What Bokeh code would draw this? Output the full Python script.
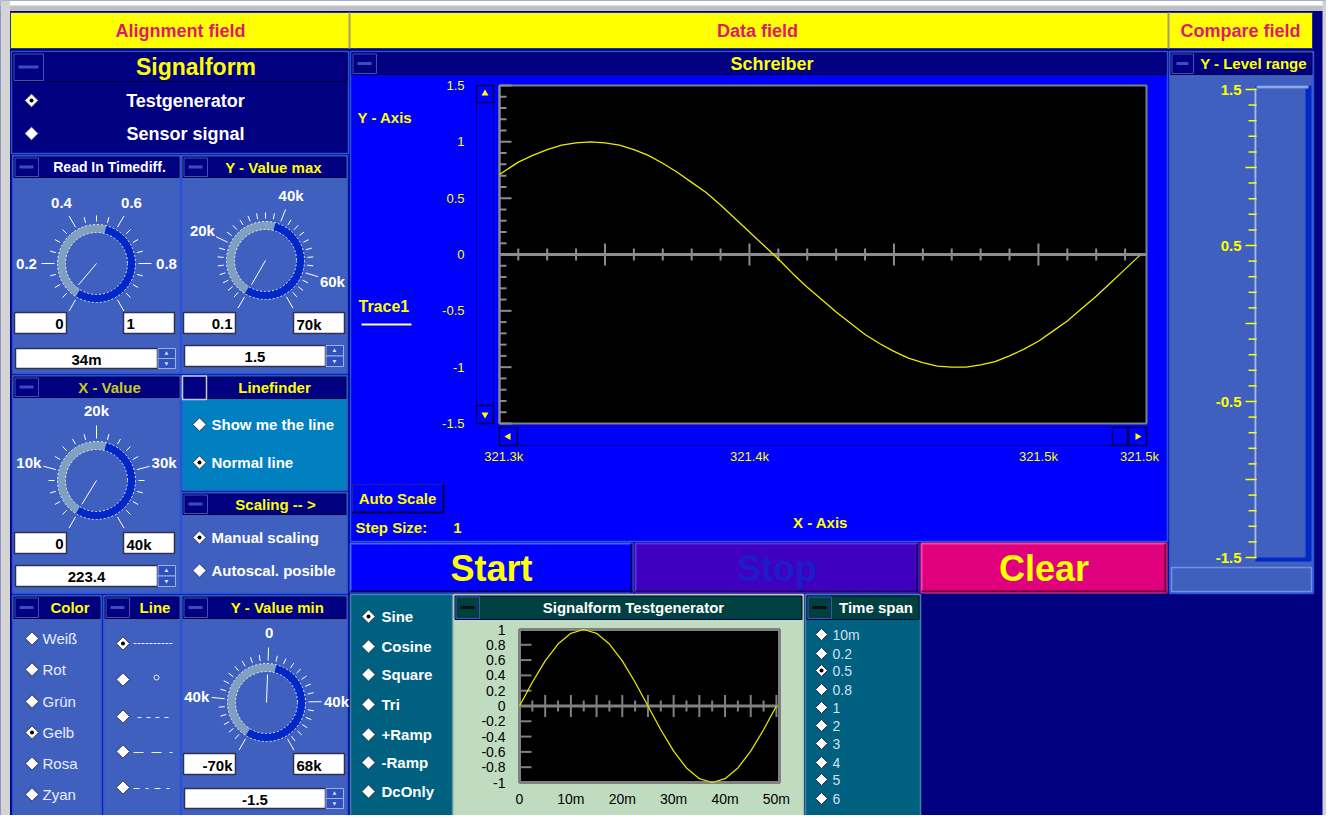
import numpy as np
from bokeh.plotting import figure
from bokeh.models import Range1d, ColumnDataSource
from bokeh.core.properties import value
from bokeh.embed import file_html
from bokeh.resources import INLINE

# ======================= DATA =======================
field_titles = ["Alignment field", "Data field", "Compare field"]
signal_sources = ["Testgenerator", "Sensor signal"]
linefinder_opts = ["Show me the line", "Normal line"]
scaling_opts = ["Manual scaling", "Autoscal. posible"]
color_opts = ["Weiß", "Rot", "Grün", "Gelb", "Rosa", "Zyan"]
waveform_opts = ["Sine", "Cosine", "Square", "Tri", "+Ramp", "-Ramp", "DcOnly"]
timespan_opts = ["10m", "0.2", "0.5", "0.8", "1", "2", "3", "4", "5", "6"]
button_labels = ["Start", "Stop", "Clear"]

# knobs
timediff_range = [0, 1]
timediff_label_vals = [0.2, 0.4, 0.6, 0.8]
timediff_labels = ["0.2", "0.4", "0.6", "0.8"]
timediff_limits = ["0", "1"]
timediff_value = 0.034
timediff_display = "34m"

ymax_range = [0, 70000]
ymax_label_vals = [20000, 40000, 60000]
ymax_labels = ["20k", "40k", "60k"]
ymax_limits = ["0.1", "70k"]
ymax_value = 1.5
ymax_display = "1.5"

xval_range = [0, 40000]
xval_label_vals = [10000, 20000, 30000]
xval_labels = ["10k", "20k", "30k"]
xval_limits = ["0", "40k"]
xval_value = 223.4
xval_display = "223.4"

ymin_range = [-70000, 68000]
ymin_label_vals = [-40000, 0, 40000]
ymin_labels = ["40k", "0", "40k"]
ymin_limits = ["-70k", "68k"]
ymin_value = -1.5
ymin_display = "-1.5"

# Schreiber (strip chart)
schreiber_x_range = [321313.5, 321537.4]
schreiber_y_range = [-1.5, 1.5]
trace_x = [321313.5, 321320, 321325, 321330, 321335, 321340, 321345, 321350,
           321355, 321360, 321365, 321370, 321375, 321380, 321385, 321390,
           321395, 321400, 321405, 321410, 321415, 321420, 321425, 321430,
           321435, 321440, 321445, 321450, 321455, 321460, 321465, 321470,
           321475, 321480, 321485, 321490, 321495, 321500, 321505, 321510,
           321515, 321520, 321525, 321530, 321535]
trace_y = [0.71, 0.82, 0.88, 0.93, 0.97, 0.99, 1.00, 0.99,
           0.97, 0.93, 0.88, 0.81, 0.73, 0.64, 0.55, 0.44,
           0.32, 0.20, 0.08, -0.04, -0.17, -0.29, -0.40, -0.51,
           -0.61, -0.71, -0.79, -0.86, -0.92, -0.96, -0.99, -1.00,
           -1.00, -0.98, -0.95, -0.90, -0.84, -0.77, -0.68, -0.59,
           -0.48, -0.37, -0.25, -0.13, -0.01]
schreiber_y_ticks = [1.5, 1, 0.5, 0, -0.5, -1, -1.5]
schreiber_y_labels = ["1.5", "1", "0.5", "0", "-0.5", "-1", "-1.5"]
schreiber_x_label_pos = [321315, 321400, 321500, 321535]
schreiber_x_labels = ["321.3k", "321.4k", "321.5k", "321.5k"]

# Signalform Testgenerator preview (time in ms)
gen_x_range = [0, 50.6]
gen_t = [0, 2.5, 5, 7.5, 10, 12.5, 15, 17.5, 20, 22.5, 25,
         27.5, 30, 32.5, 35, 37.5, 40, 42.5, 45, 47.5, 50]
gen_y = [0, 0.31, 0.59, 0.81, 0.95, 1.0, 0.95, 0.81, 0.59, 0.31, 0,
         -0.31, -0.59, -0.81, -0.95, -1.0, -0.95, -0.81, -0.59, -0.31, 0]
gen_y_ticks = [1, 0.8, 0.6, 0.4, 0.2, 0, -0.2, -0.4, -0.6, -0.8, -1]
gen_y_labels = ["1", "0.8", "0.6", "0.4", "0.2", "0", "-0.2", "-0.4", "-0.6", "-0.8", "-1"]
gen_x_ticks = [0, 10, 20, 30, 40, 50]
gen_x_labels = ["0", "10m", "20m", "30m", "40m", "50m"]

# Y - Level range scale
level_range = [-1.5, 1.5]
level_label_vals = [1.5, 0.5, -0.5, -1.5]
level_labels = ["1.5", "0.5", "-0.5", "-1.5"]

# ======================= CANVAS =======================
FONT = value("Liberation Sans")
W, H = 1326, 815
p = figure(width=W, height=H, x_range=Range1d(0, W), y_range=Range1d(H, 0),
           output_backend="svg", toolbar_location=None,
           x_axis_location=None, y_axis_location=None, min_border=0)
p.grid.visible = False
p.outline_line_color = None
p.background_fill_color = "#000080"
p.border_fill_color = "#000080"

Q = {k: [] for k in ["l", "r", "t", "b", "f", "lc", "lw", "la"]}
S = {k: [] for k in ["x0", "y0", "x1", "y1", "c", "w"]}
T = {k: [] for k in ["x", "y", "s", "c", "fs", "st", "al"]}
WD = {k: [] for k in ["x", "y", "sa", "ea", "c"]}
CI = {k: [] for k in ["x", "y", "r"]}
RD = {k: [] for k in ["x", "y", "sz"]}
DOT = {k: [] for k in ["x", "y"]}
TRI = {k: [] for k in ["x", "y", "a", "c", "sz"]}


def rect(x0, y0, x1, y1, fill, line=None, lw=1):
    Q["l"].append(x0); Q["r"].append(x1); Q["t"].append(y0); Q["b"].append(y1)
    Q["f"].append(fill); Q["lc"].append(line or fill); Q["lw"].append(lw)
    Q["la"].append(1 if line else 0)


def seg(x0, y0, x1, y1, c, w=1):
    for k, v in zip(["x0", "y0", "x1", "y1", "c", "w"], [x0, y0, x1, y1, c, w]):
        S[k].append(v)


def txt(x, y, s, c, fs=15, st="bold", al="center"):
    for k, v in zip(["x", "y", "s", "c", "fs", "st", "al"], [x, y, s, c, f"{fs}px", st, al]):
        T[k].append(v)


def radio(x, y, sel=False, sz=9.5):
    RD["x"].append(x); RD["y"].append(y); RD["sz"].append(sz)
    if sel:
        DOT["x"].append(x); DOT["y"].append(y)


def tri(x, y, a, c="#ffff00", sz=7):
    for k, v in zip(["x", "y", "a", "c", "sz"], [x, y, a, c, sz]):
        TRI[k].append(v)


def panel(x0, y0, x1, y1, hy, title, tcol, body, hfill="#000080", btn="dash",
          bw=24, tfs=15, tx=None, border="#2a52d6", dash="#3c4cc0"):
    rect(x0, y0, x1, y1, body, border, 1.5)
    rect(x0 + 1.5, y0 + 1.5, x1 - 1.5, hy, hfill, "#000040", 1)
    my = (y0 + hy) / 2 + 0.5
    if btn == "dash":
        rect(x0 + 2.5, y0 + 2.5, x0 + 2 + bw, hy - 1, hfill, "#4050b8", 1)
        seg(x0 + 7, my, x0 + bw - 3, my, dash, 3)
    elif btn == "square":
        rect(x0 + 1, y0 + 0.5, x0 + 1 + bw, hy + 1, hfill, "#c8c8d8", 1.5)
    if tx is None:
        tx = (x0 + 2 + bw + x1) / 2
    txt(tx, my, title, tcol, tfs)


def knob(cx, cy, rng, step, label_vals, labels, val):
    vmin, vmax = rng

    def ang(v):
        return np.deg2rad(240 - 300 * (v - vmin) / (vmax - vmin))

    WD["x"] += [cx, cx]; WD["y"] += [cy, cy]
    WD["sa"] += [np.deg2rad(75), np.deg2rad(-122)]
    WD["ea"] += [np.deg2rad(238), np.deg2rad(75)]
    WD["c"] += ["#80a0c0", "#0028c8"]
    CI["x"] += [cx, cx]; CI["y"] += [cy, cy]; CI["r"] += [31, 39]
    n = int(round((vmax - vmin) / step))
    vals = [vmin + i * step for i in range(n + 1) if vmin + i * step <= vmax + 1e-9]
    if vals[-1] < vmax - 1e-9:
        vals.append(vmax)
    majors = [vmin, vmax] + list(label_vals)
    for v in vals:
        a = ang(v)
        big = any(abs(v - m) < 1e-9 for m in majors)
        r1, r2 = 42, (55 if big else 48)
        seg(cx + r1 * np.cos(a), cy - r1 * np.sin(a), cx + r2 * np.cos(a), cy - r2 * np.sin(a), "white", 1)
    for v, s in zip(label_vals, labels):
        a = ang(v)
        txt(cx + 70 * np.cos(a), cy - 70 * np.sin(a), s, "white", 15)
    a = ang(val)
    seg(cx, cy, cx + 28 * np.cos(a), cy - 28 * np.sin(a), "white", 1)


def valbox(x0, y0, x1, y1, s, al):
    rect(x0, y0, x1, y1, "white", "#303050", 1.5)
    tx = {"right": x1 - 3, "left": x0 + 3, "center": (x0 + x1) / 2}[al]
    txt(tx, (y0 + y1) / 2 + 1, s, "black", 15, "bold", al)


def spinner(x0, y0, x1, y1, bx1, s):
    valbox(x0, y0, x1, y1, s, "center")
    mid = (y0 + y1) / 2
    rect(x1 + 0.5, y0, bx1, mid, "#3050c0", "#a0b0e0", 1)
    rect(x1 + 0.5, mid, bx1, y1, "#3050c0", "#a0b0e0", 1)
    tri((x1 + bx1) / 2, (y0 + mid) / 2, 0, "#d8e0f8", 4)
    tri((x1 + bx1) / 2, (mid + y1) / 2, np.pi, "#d8e0f8", 4)


# ---------- frame & header ----------
rect(0, 0, W, 10.5, "#c0c0c0")
rect(0, 0, W, 5, "white")
rect(0, 0, 9.5, H, "#d4d4d4")
rect(1322, 0, W, H, "#d0d0d8")
rect(10, 12, 1312, 48, "#ffff00", "#2030a0", 1)
seg(349, 12, 349, 48, "#a0a070", 2)
seg(1168, 12, 1168, 48, "#a0a070", 2)
for x, s in zip([180, 757, 1240], field_titles):
    txt(x, 30, s, "#e0186e", 18)

# ---------- Alignment field ----------
panel(11, 51, 348, 153, 81, "Signalform", "#ffff00", "#000080", bw=30, tfs=23)
for y, s, sel in zip([100, 133], signal_sources, [True, False]):
    radio(31, y, sel)
    txt(185, y, s, "white", 18)

panel(12, 155, 180, 373, 177, "Read In Timediff.", "white", "#4060c0", tfs=14)
panel(181, 155, 347, 373, 177, "Y - Value max", "#ffff00", "#4060c0", tx=273)
panel(12, 375, 180, 593, 397, "X - Value", "#c8c820", "#4060c0")
panel(181, 375, 347, 490, 398, "Linefinder", "#ffff00", "#0080c0", btn="square", tx=274)
panel(181, 492, 347, 593, 514, "Scaling -- >", "#ffff00", "#4060c0", tx=275)
panel(12, 595, 101, 818, 618, "Color", "#ffff00", "#4060c0")
panel(103, 595, 180, 818, 618, "Line", "#ffff00", "#4060c0")
panel(181, 595, 347, 818, 618, "Y - Value min", "#ffff00", "#4060c0")

for y, s, sel in zip([424, 462], linefinder_opts, [False, True]):
    radio(199, y, sel)
    txt(211, y, s, "white", 15, "bold", "left")
for y, s, sel in zip([537, 570], scaling_opts, [True, False]):
    radio(199, y, sel)
    txt(211, y, s, "white", 15, "bold", "left")
for y, s in zip([638, 669, 701, 732, 763, 794], color_opts):
    radio(31.5, y, s == "Gelb")
    txt(42, y, s, "#e8eeff", 15, "normal", "left")
for i, y in enumerate([643, 679, 716, 751, 787]):
    radio(122.5, y, i == 0)

knob(96, 263, timediff_range, 0.05, timediff_label_vals, timediff_labels, timediff_value)
valbox(14, 312, 66, 333, timediff_limits[0], "right")
valbox(123, 312, 174, 333, timediff_limits[1], "left")
spinner(15, 348, 157, 368, 175, timediff_display)

knob(265, 260, ymax_range, 2500, ymax_label_vals, ymax_labels, ymax_value)
valbox(183, 312, 235, 333, ymax_limits[0], "right")
valbox(293, 312, 344, 333, ymax_limits[1], "left")
spinner(184, 345, 325, 366, 343, ymax_display)

knob(96, 480, xval_range, 2000, xval_label_vals, xval_labels, xval_value)
valbox(14, 532, 66, 553, xval_limits[0], "right")
valbox(123, 532, 174, 553, xval_limits[1], "left")
spinner(15, 565, 157, 586, 175, xval_display)

knob(266, 702, ymin_range, 5000, ymin_label_vals, ymin_labels, ymin_value)
valbox(183, 753, 235, 774, ymin_limits[0], "right")
valbox(293, 753, 344, 774, ymin_limits[1], "left")
spinner(184, 788, 325, 808, 343, ymin_display)

# ---------- Data field ----------
panel(350, 51, 1167, 541, 74, "Schreiber", "#ffff00", "#0000ff", tfs=18)
txt(357, 117, "Y - Axis", "#ffff00", 15, "bold", "left")
txt(358, 306, "Trace1", "#ffff00", 16, "bold", "left")
seg(361, 324, 411, 324, "#ffffb0", 2)
# vertical scrollbar
rect(476, 85, 493, 423, "#0000ff", "#000090", 1)
rect(476, 85, 493, 102, "#0000ff", "#000050", 1.5)
rect(476, 405, 493, 423, "#0000ff", "#000050", 1.5)
tri(484.5, 93, 0)
tri(484.5, 414, np.pi)
# horizontal scrollbar
rect(499, 427, 1146, 445, "#0000ff", "#000090", 1)
rect(499, 427, 517, 445, "#0000ff", "#000050", 1.5)
rect(1112, 427, 1127, 445, "#0000ff", "#000050", 1.5)
rect(1128, 427, 1146, 445, "#0000ff", "#000050", 1.5)
tri(508, 436, np.pi / 2)
tri(1137, 436, -np.pi / 2)
# auto scale etc
rect(352, 484, 443, 512, "#0000ff", "#2020a0", 1)
seg(443, 484, 443, 512, "#000040", 2)
seg(352, 512, 443, 512, "#000040", 2)
txt(397, 498, "Auto Scale", "#ffff00", 15)
txt(355, 527, "Step Size:", "#ffff00", 15, "bold", "left")
txt(457, 527, "1", "#ffff00", 15)
txt(820, 522, "X - Axis", "#ffff00", 15)

# big buttons
for (x0, x1), fill, hl, sh, tc, s in zip(
        [(350, 632), (635, 918), (921, 1166)],
        ["#0000ff", "#4000c0", "#e0007e"],
        ["#4060ff", "#6030e0", "#ff40a0"],
        ["#000050", "#200060", "#600030"],
        ["#ffff00", "#1c1cc8", "#ffff00"], button_labels):
    rect(x0, 543, x1, 592, fill, hl, 2)
    seg(x0, 591, x1, 591, sh, 2)
    seg(x1 - 1, 543, x1 - 1, 592, sh, 2)
    txt((x0 + x1) / 2, 568, s, tc, 36)

# bottom row
rect(350, 594, 452, 818, "#006080", "#3a86a8", 1.5)
for y, s in zip([616, 646, 674, 704, 734, 762, 791], waveform_opts):
    radio(368, y, s == "Sine")
    txt(381, y, s, "white", 15, "bold", "left")
panel(453, 594, 803, 818, 619, "Signalform Testgenerator", "white", "#c0dcc0",
      hfill="#004040", tx=633, border="#a8c8b0", dash="#101010")
panel(805, 594, 920, 818, 619, "Time span", "white", "#006080",
      hfill="#004040", border="#3a86a8", dash="#101010")
for y, s in zip([634, 653, 670, 689, 707, 725, 743, 762, 779, 798], timespan_opts):
    radio(821, y, s == "0.5", 8.5)
    txt(832, y, s, "#d0e0f0", 14, "normal", "left")

# ---------- Compare field ----------
panel(1169, 51, 1313, 593, 74, "Y - Level range", "#ffff00", "#4060c0", bw=22)
rect(1255, 85, 1311, 561, "#0028c8")
rect(1256, 88, 1305, 557, "#4060c0")
seg(1256, 86.5, 1308, 86.5, "#90a8e0", 3)
seg(1255, 88, 1255, 558, "#a8b8e8", 2)
rect(1171, 567, 1311, 591, "#4060c0", "#7090e0", 1.5)

# ======================= RENDER =======================
p.quad(left="l", right="r", top="t", bottom="b", fill_color="f", line_color="lc",
       line_width="lw", line_alpha="la", source=ColumnDataSource(Q))
p.annular_wedge(x="x", y="y", inner_radius=31, outer_radius=39, start_angle="sa",
                end_angle="ea", fill_color="c", line_color=None, source=ColumnDataSource(WD))
p.circle(x="x", y="y", radius="r", fill_color=None, line_color="white", line_width=1,
         line_dash="2 2", line_alpha=0.85, source=ColumnDataSource(CI))
p.segment(x0="x0", y0="y0", x1="x1", y1="y1", line_color="c", line_width="w",
          source=ColumnDataSource(S))

# line-style samples in "Line" panel
p.line([133, 172], [643, 643], line_color="#e8eeff", line_dash="3 1", line_width=1)
p.scatter([156], [677], marker="circle", size=5, fill_color=None, line_color="#e8eeff")
p.line([137, 170], [717, 717], line_color="#e8eeff", line_dash="4 5", line_width=1)
p.line([133, 172], [752, 752], line_color="#e8eeff", line_dash="10 8", line_width=1)
p.line([133, 172], [788, 788], line_color="#e8eeff", line_dash="6 6 3 6", line_width=1)

# ---- Schreiber chart ----
xr0, xr1 = schreiber_x_range
yr0, yr1 = schreiber_y_range
sch = p.subplot(x_source=Range1d(xr0, xr1), y_source=Range1d(yr0, yr1),
                x_target=Range1d(499, 1146), y_target=Range1d(423, 85))
pxu_x = 647 / (xr1 - xr0)
pxu_y = 338 / (yr1 - yr0)
sch.quad(left=xr0, right=xr1, bottom=yr0, top=yr1, fill_color="black",
         line_color="#808080", line_width=2)
ytk = [round(yr0 + 0.1 * i, 1) for i in range(int(round((yr1 - yr0) / 0.1)) + 1)]
ylen = [(12 if abs(v * 2 - round(v * 2)) < 1e-6 else 7) / pxu_x for v in ytk]
sch.segment(x0=[xr0] * len(ytk), y0=ytk, x1=[xr0 + L for L in ylen], y1=ytk,
            line_color="#8c8c8c", line_width=2)
sch.segment(x0=[xr0], y0=[yr0], x1=[xr0], y1=[yr1], line_color="#8c8c8c", line_width=2)
sch.segment(x0=[xr0], y0=[0], x1=[xr1], y1=[0], line_color="#8c8c8c", line_width=3)
xtk = [v for v in range(321320, 321531, 10)]
xh = [(11 if v % 50 == 0 else 6) / pxu_y for v in xtk]
sch.segment(x0=xtk, y0=[-h for h in xh], x1=xtk, y1=xh, line_color="#8c8c8c", line_width=2)
sch.line(trace_x, trace_y, line_color="#ecec00", line_width=1.3)
sch.text(x=[xr0] * len(schreiber_y_ticks), y=schreiber_y_ticks, text=schreiber_y_labels,
         x_offset=-35, text_align="right", text_baseline="middle", text_color="#ffff00",
         text_font=FONT, text_font_size="13px")
sch.text(x=schreiber_x_label_pos, y=[yr0] * 4, text=schreiber_x_labels, y_offset=33,
         text_align="center", text_baseline="middle", text_color="#ffff00",
         text_font=FONT, text_font_size="13px")

# ---- Testgenerator preview ----
g0, g1 = gen_x_range
gen = p.subplot(x_source=Range1d(g0, g1), y_source=Range1d(-1, 1),
                x_target=Range1d(519, 779), y_target=Range1d(782, 629))
gpx = 260 / (g1 - g0)
gpy = 153 / 2
gen.quad(left=g0, right=g1, bottom=-1, top=1, fill_color="black",
         line_color="#808080", line_width=3)
gyt = [v for v in gen_y_ticks if 0 < abs(v) < 1]
gen.segment(x0=[g0] * len(gyt), y0=gyt, x1=[g0 + 12 / gpx] * len(gyt), y1=gyt,
            line_color="#808080", line_width=2)
gen.segment(x0=[g0], y0=[0], x1=[g1], y1=[0], line_color="#808080", line_width=3)
gxt = [2.5 * i for i in range(1, 21)]
gh = [(11 if (t % 5) == 0 else 5.5) / gpy for t in gxt]
gen.segment(x0=gxt, y0=[-h for h in gh], x1=gxt, y1=gh, line_color="#808080", line_width=2)
gen.line(gen_t, gen_y, line_color="#e4e400", line_width=1.3)
gen.text(x=[g0] * len(gen_y_ticks), y=gen_y_ticks, text=gen_y_labels, x_offset=-14,
         text_align="right", text_baseline="middle", text_color="black",
         text_font=FONT, text_font_size="14px")
gen.text(x=gen_x_ticks, y=[-1] * len(gen_x_ticks), text=gen_x_labels, y_offset=16,
         text_align="center", text_baseline="middle", text_color="black",
         text_font=FONT, text_font_size="14px")

# ---- Y - Level range scale ----
lv = p.subplot(x_source=Range1d(0, 1), y_source=Range1d(level_range[0], level_range[1]),
               x_target=Range1d(0, 1), y_target=Range1d(557, 89))
ltk = [round(level_range[0] + 0.1 * i, 1) for i in range(31)]
lx0 = [1245 if abs(v * 2 - round(v * 2)) < 1e-6 else 1248 for v in ltk]
lv.segment(x0=lx0, y0=ltk, x1=[1256] * len(ltk), y1=ltk, line_color="#ffff00", line_width=1.5)
lv.text(x=[1241] * 4, y=level_label_vals, text=level_labels, text_align="right",
        text_baseline="middle", text_color="#ffff00", text_font=FONT,
        text_font_size="15px", text_font_style="bold")

# markers
p.scatter(x="x", y="y", size="sz", marker="square", angle=np.pi / 4, fill_color="white",
          line_color="#303050", line_width=1, source=ColumnDataSource(RD))
p.scatter(x="x", y="y", size=4, marker="circle", fill_color="black", line_color=None,
          source=ColumnDataSource(DOT))
p.scatter(x="x", y="y", size="sz", angle="a", marker="triangle", fill_color="c",
          line_color=None, source=ColumnDataSource(TRI))

# texts
p.text(x="x", y="y", text="s", text_color="c", text_font_size="fs", text_font_style="st",
       text_align="al", text_baseline="middle", text_font=FONT, source=ColumnDataSource(T))

open("out.html", "w").write(file_html(p, INLINE))
